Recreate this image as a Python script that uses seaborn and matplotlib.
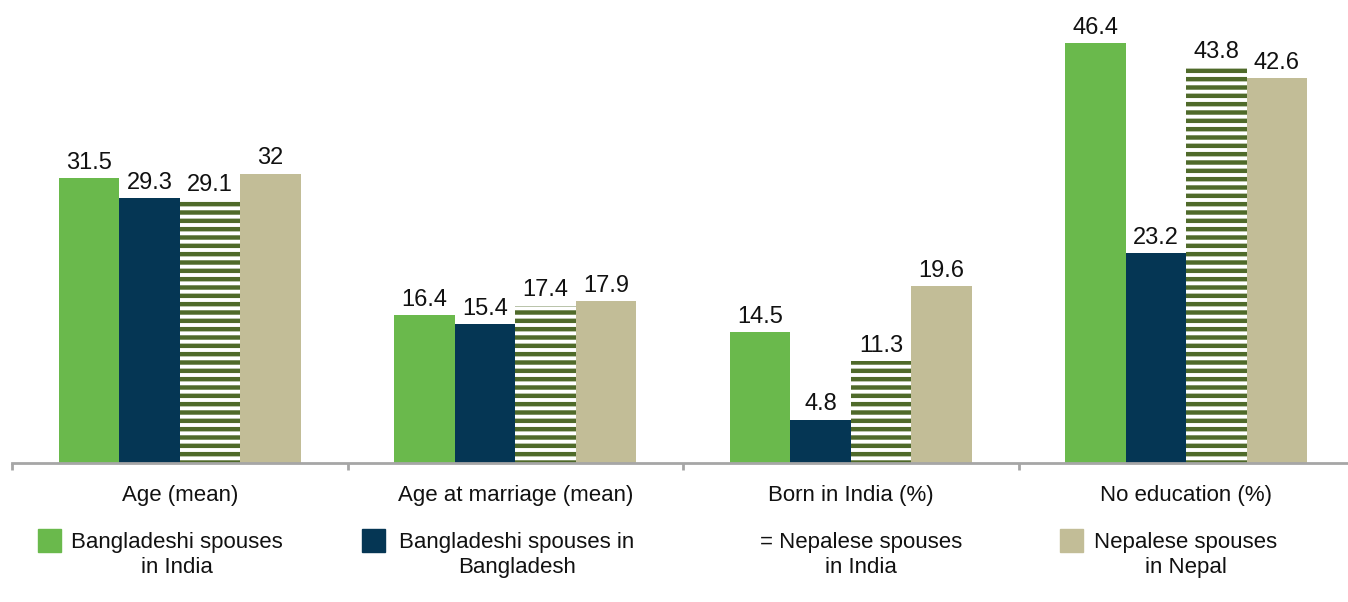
import pandas as pd
import numpy as np
import matplotlib
matplotlib.use("Agg")
import matplotlib.pyplot as plt
import seaborn as sns
from matplotlib.patches import Rectangle

sns.set_style("white")
plt.rcParams['font.family'] = ['Liberation Sans', 'DejaVu Sans']
plt.rcParams['hatch.linewidth'] = 3.2
plt.rcParams['text.color'] = '#111111'
plt.rcParams['xtick.color'] = '#111111'

# Datos
categories = ["Age (mean)", "Age at marriage (mean)", "Born in India (%)", "No education (%)"]
groups = ["Bangladeshi spouses\nin India", "Bangladeshi spouses in\nBangladesh",
          "= Nepalese spouses\nin India", "Nepalese spouses\nin Nepal"]
bd_india = [31.5, 16.4, 14.5, 46.4]
bd_bangladesh = [29.3, 15.4, 4.8, 23.2]
np_india = [29.1, 17.4, 11.3, 43.8]
np_nepal = [32, 17.9, 19.6, 42.6]

colors = ["#6ab94c", "#053654", "#ffffff", "#c2bd97"]
olive = "#4f6a2a"

series = [bd_india, bd_bangladesh, np_india, np_nepal]
df = pd.DataFrame({
    "category": categories * 4,
    "group": [g for g in groups for _ in categories],
    "value": [v for s in series for v in s],
})

fig = plt.figure(figsize=(13.48, 6.02), dpi=100)
ax = fig.add_axes([12/1348, (602-463)/602, 1342/1348, 463/602])

sns.barplot(data=df, x="category", y="value", hue="group", hue_order=groups,
            order=categories, palette=colors, width=0.72, gap=0, ax=ax,
            legend=False, linewidth=0, saturation=1)

# rayas del tercer grupo
for p in ax.containers[2]:
    p.set_hatch("--")
    p.set_edgecolor(olive)
    p.set_facecolor("white")
    p.set_linewidth(0)

for cont, s in zip(ax.containers, series):
    ax.bar_label(cont, labels=[f"{v:g}" for v in s], padding=3, fontsize=17, color="#111111")

ax.set_xlim(-0.5, 3.5)
ax.set_ylim(0, 51.2)
ax.set_xlabel("")
ax.set_ylabel("")
ax.set_yticks([])
for side in ["top", "right", "left"]:
    ax.spines[side].set_visible(False)
ax.spines["bottom"].set_color("#a6a6a6")
ax.spines["bottom"].set_linewidth(2)
ax.set_xticks(range(4))
ax.set_xticklabels(categories, fontsize=16)
ax.tick_params(axis="x", which="major", length=0, pad=16, labelcolor="#111111")
ax.set_xticks([-0.5, 0.5, 1.5, 2.5], minor=True)
ax.tick_params(axis="x", which="minor", bottom=True, length=5, width=2, color="#a6a6a6")

# Leyenda manual
patch_x = [38, 362, None, 1060]
text_x = [177, 517, 861, 1186]
for i, g in enumerate(groups):
    if patch_x[i] is not None:
        fig.patches.append(Rectangle((patch_x[i]/1348, (602-552)/602), 23/1348, 23/602,
                                     transform=fig.transFigure, color=colors[i]))
    fig.text(text_x[i]/1348, (602-555)/602, g, ha="center", va="center",
             fontsize=16, linespacing=1.3, color="#111111")

fig.savefig("out.png", dpi=100)
